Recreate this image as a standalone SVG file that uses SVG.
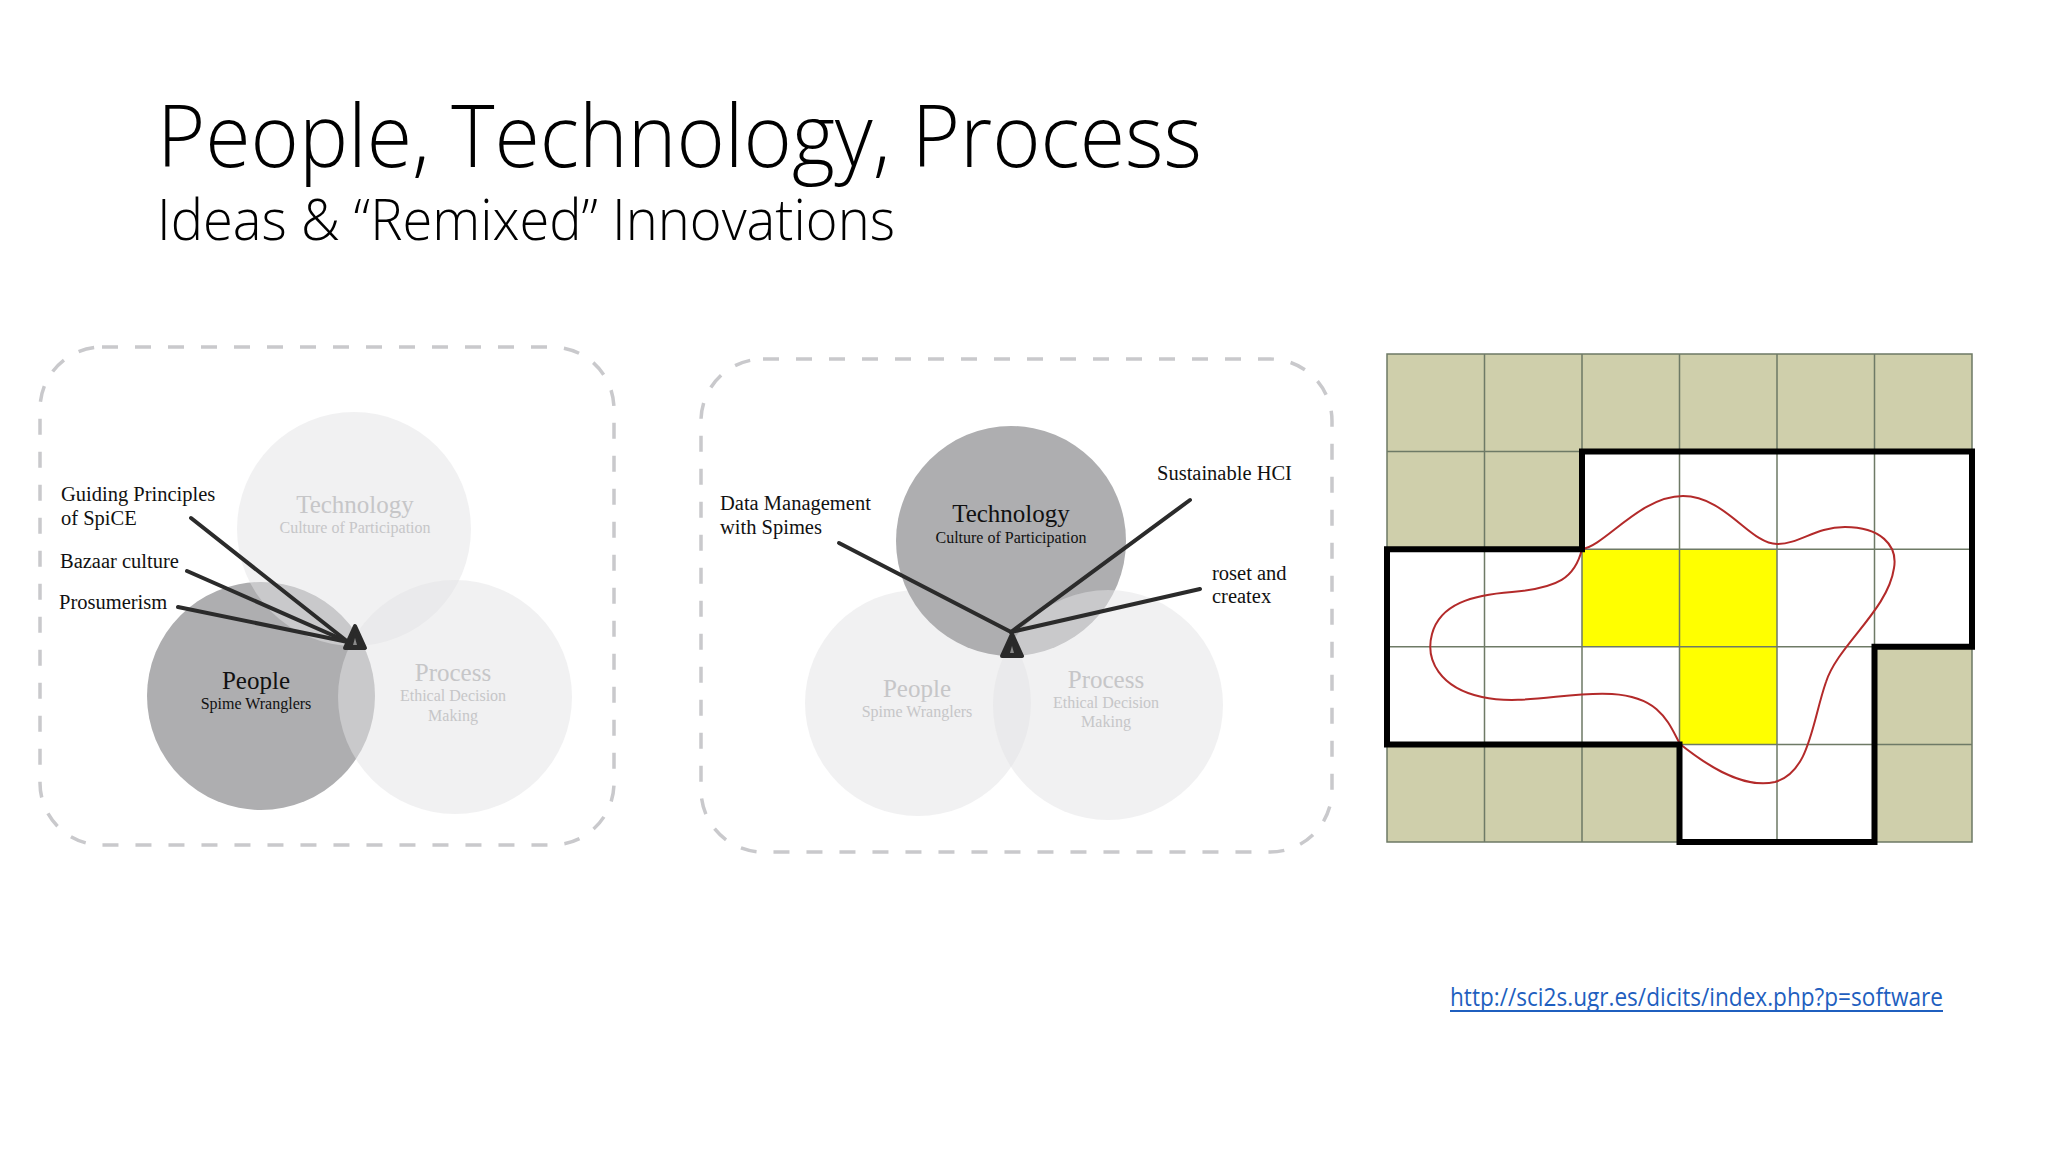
<svg xmlns="http://www.w3.org/2000/svg" width="2048" height="1152" viewBox="0 0 2048 1152">
<defs>
<style>
.title{font-family:"Open Sans","Liberation Sans",sans-serif;font-weight:300;fill:#000}
.serif{font-family:"Liberation Serif","Times New Roman",serif}
.lbl{font-size:20.5px;fill:#111}
.big{font-size:25px;text-anchor:middle}
.sub{font-size:16px;text-anchor:middle}
.dark{fill:#111}
.faint{fill:#c6c6c8}
.frame{fill:none;stroke:#c9c9cc;stroke-width:3.5;stroke-dasharray:16 17}
.dk{fill:#aeaeb0}
.lt{fill:#e4e4e6;fill-opacity:0.5}
.call{stroke:#2b2b2b;stroke-width:4;fill:none;stroke-linecap:round}
.tri{fill:#2a2a2a;stroke:#2a2a2a;stroke-width:4;stroke-linejoin:round}
.olive{fill:#cfcfab}
.wh{fill:#ffffff}
.yel{fill:#ffff00}
.gl{stroke:#6e7a66;stroke-width:1.5;fill:none}
.thick{fill:none;stroke:#000;stroke-width:6;stroke-linejoin:miter}
</style>
<g id="marker-tri">
<path class="tri" d="M0,-11 L10,11 L-10,11 Z"/>
<path d="M0,1 L2,8 L-2,8 Z" fill="#8a8a8a"/>
</g>
</defs>
<rect width="2048" height="1152" fill="#ffffff"/>

<g id="title">
<text class="title" x="157" y="167" font-size="86" textLength="1045" lengthAdjust="spacingAndGlyphs">People, Technology, Process</text>
<text class="title" x="157" y="240" font-size="57" textLength="738" lengthAdjust="spacingAndGlyphs">Ideas &amp; “Remixed” Innovations</text>
</g>

<!-- Panel 1 -->
<g id="panel1">
<rect class="frame" x="40" y="347" width="574" height="498" rx="62" ry="62"/>
<g id="p1-people"><circle class="dk" cx="261" cy="696" r="114"/></g>
<g id="p1-technology"><circle class="lt" cx="354" cy="529" r="117"/></g>
<g id="p1-process"><circle class="lt" cx="455" cy="697" r="117"/></g>
<g class="serif">
<text class="big faint" x="355" y="513">Technology</text>
<text class="sub faint" x="355" y="533">Culture of Participation</text>
<text class="big dark" x="256" y="689">People</text>
<text class="sub dark" x="256" y="709">Spime Wranglers</text>
<text class="big faint" x="453" y="681">Process</text>
<text class="sub faint" x="453" y="701">Ethical Decision</text>
<text class="sub faint" x="453" y="721">Making</text>
</g>
<g id="p1-labels" class="serif lbl">
<text x="61" y="501">Guiding Principles</text>
<text x="61" y="525">of SpiCE</text>
<text x="60" y="568">Bazaar culture</text>
<text x="59" y="609">Prosumerism</text>
</g>
</g>

<!-- Panel 2 -->
<g id="panel2">
<rect class="frame" x="701" y="359" width="631" height="493" rx="62" ry="62"/>
<g id="p2-people"><circle class="lt" cx="918" cy="703" r="113"/></g>
<g id="p2-technology"><circle class="dk" cx="1011" cy="541" r="115"/></g>
<g id="p2-process"><circle class="lt" cx="1108" cy="705" r="115"/></g>
<g class="serif">
<text class="big dark" x="1011" y="522" font-size="24">Technology</text>
<text class="sub dark" x="1011" y="543">Culture of Participation</text>
<text class="big faint" x="917" y="697">People</text>
<text class="sub faint" x="917" y="717">Spime Wranglers</text>
<text class="big faint" x="1106" y="688">Process</text>
<text class="sub faint" x="1106" y="708">Ethical Decision</text>
<text class="sub faint" x="1106" y="727">Making</text>
</g>
<g id="p2-labels" class="serif lbl">
<text x="720" y="510">Data Management</text>
<text x="720" y="534">with Spimes</text>
<text x="1157" y="480">Sustainable HCI</text>
<text x="1212" y="580">roset and</text>
<text x="1212" y="603">createx</text>
</g>
</g>

<g id="connectors">
<line class="call" x1="191" y1="518" x2="348" y2="642"/>
<line class="call" x1="187" y1="571" x2="348" y2="642"/>
<line class="call" x1="178" y1="607" x2="348" y2="642"/>
<use href="#marker-tri" x="355" y="637"/>
<line class="call" x1="839" y1="543" x2="1011" y2="632"/>
<line class="call" x1="1190" y1="500" x2="1011" y2="632"/>
<line class="call" x1="1200" y1="589" x2="1011" y2="632"/>
<use href="#marker-tri" x="1012" y="645"/>
</g>

<!-- Grid figure -->
<g id="grid">
<rect class="olive" x="1387" y="354" width="585" height="488"/>
<rect class="wh" x="1582" y="451.6" width="390" height="195.2"/>
<rect class="wh" x="1387" y="549.2" width="585" height="97.6"/>
<rect class="wh" x="1387" y="646.8" width="487.5" height="97.6"/>
<rect class="wh" x="1679.5" y="744.4" width="195" height="97.6"/>
<rect class="yel" x="1582" y="549.2" width="195" height="97.6"/>
<rect class="yel" x="1679.5" y="646.8" width="97.5" height="97.6"/>
<path class="gl" d="M1387,354 H1972 V842 H1387 Z M1484.5,354 V842 M1582,354 V842 M1679.5,354 V842 M1777,354 V842 M1874.5,354 V842 M1387,451.6 H1972 M1387,549.2 H1972 M1387,646.8 H1972 M1387,744.4 H1972"/>
<path d="M1582,549 C1605,546 1640,496 1683,496 C1725,496 1750,544 1777,544 C1800,544 1815,527 1845,527 C1880,527 1898,545 1894,568 C1888,610 1838,645 1826,682 C1812,722 1810,772 1775,782 C1740,790 1700,760 1680,744 C1668,722 1660,697 1612,694 C1570,691 1522,706 1482,697 C1440,688 1425,660 1432,634 C1440,604 1472,595 1512,592 C1558,588 1575,578 1582,549 Z" fill="none" stroke="#b32a2a" stroke-width="2"/>
<path class="thick" d="M1582,451.6 H1972 V646.8 H1874.5 V842 H1679.5 V744.4 H1387 V549.2 H1582 Z"/>
</g>

<g id="link">
<text x="1450" y="1006" font-family="Open Sans, Liberation Sans, sans-serif" font-size="26" fill="#1f5fbf" textLength="493" lengthAdjust="spacingAndGlyphs">http://sci2s.ugr.es/dicits/index.php?p=software</text>
<line x1="1450" y1="1011" x2="1943" y2="1011" stroke="#1f5fbf" stroke-width="2"/>
</g>
</svg>
